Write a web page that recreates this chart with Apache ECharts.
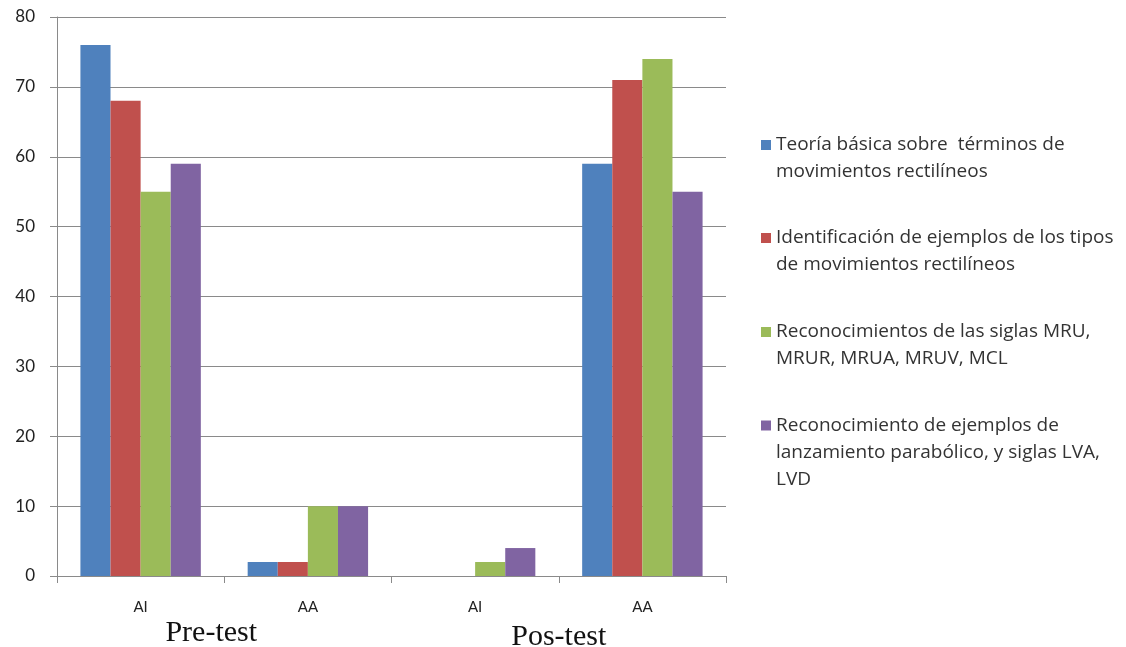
<!DOCTYPE html>
<html>
<head>
<meta charset="utf-8">
<script src="https://cdn.jsdelivr.net/npm/echarts@6/dist/echarts.min.js"></script>
<style>
html,body{margin:0;padding:0;background:#fff;}
#chart{width:1126px;height:647px;}
</style>
</head>
<body>
<div id="chart"></div>
<script>
const categories = ['AI', 'AA', 'AI', 'AA'];
const groups = ['Pre-test', 'Pos-test'];
const seriesNames = [
  'Teoría básica sobre  términos de\nmovimientos rectilíneos',
  'Identificación de ejemplos de los tipos\nde movimientos rectilíneos',
  'Reconocimientos de las siglas MRU,\nMRUR, MRUA, MRUV, MCL',
  'Reconocimiento de ejemplos de\nlanzamiento parabólico, y siglas LVA,\nLVD'
];
const teoria = [76, 2, 0, 59];
const identificacion = [68, 2, 0, 71];
const siglas = [55, 10, 2, 74];
const lanzamiento = [59, 10, 4, 55];
const yTicks = [0, 10, 20, 30, 40, 50, 60, 70, 80];

const colors = ['#4F81BD', '#C0504D', '#9BBB59', '#8064A2'];
const values = [teoria, identificacion, siglas, lanzamiento];
const iconCenters = [145, 238, 332, 425.5];
const lineH = 27;

const legends = seriesNames.map((name, i) => {
  const lines = name.split('\n').length;
  const totalLines = 2 * lines - 1;
  const blockH = totalLines * lineH;
  return {
    data: [name],
    formatter: (n) => '\n'.repeat(lines - 1) + n,
    left: 761,
    top: iconCenters[i] - blockH / 2,
    padding: 0,
    itemWidth: 10,
    itemHeight: 10,
    icon: 'rect',
    selectedMode: false,
    textStyle: { fontFamily: 'Open Sans', fontSize: 19, color: '#333', lineHeight: lineH }
  };
});

const chart = echarts.init(document.getElementById('chart'), null, { renderer: 'canvas' });
chart.setOption({
  animation: false,
  grid: { left: 57, right: 400, top: 17, bottom: 71, containLabel: false, outerBoundsMode: 'none' },
  legend: legends,
  xAxis: [
    {
      type: 'category',
      data: categories,
      axisLine: { show: true, lineStyle: { color: '#8a8a8a', width: 1 } },
      axisTick: { show: true, length: 7, lineStyle: { color: '#8a8a8a' } },
      axisLabel: { margin: 24, fontFamily: 'Lato', fontSize: 15, color: '#222' }
    },
    {
      type: 'category',
      position: 'bottom',
      data: groups,
      axisLine: { show: false },
      axisTick: { show: false },
      axisLabel: {
        margin: 42,
        formatter: (v, i) => (i === 0 ? '{a|' + v + '}' : '{b|' + v + '}'),
        rich: {
          a: { fontFamily: 'Liberation Serif', fontSize: 30, color: '#111', padding: [0, 26, 0, 0] },
          b: { fontFamily: 'Liberation Serif', fontSize: 30, color: '#111', padding: [4, 0, 0, 0] }
        }
      }
    }
  ],
  yAxis: {
    type: 'value',
    min: yTicks[0],
    max: yTicks[yTicks.length - 1],
    interval: 10,
    axisLine: { show: true, lineStyle: { color: '#8a8a8a', width: 1 } },
    axisTick: { show: true, length: 7, lineStyle: { color: '#8a8a8a' } },
    axisLabel: { margin: 22, fontFamily: 'Lato', fontSize: 17, color: '#222' },
    splitLine: { show: true, lineStyle: { color: '#8a8a8a', width: 1.2 } }
  },
  series: seriesNames.map((name, i) => ({
    name: name,
    type: 'bar',
    xAxisIndex: 0,
    data: values[i],
    barGap: '0%',
    barCategoryGap: '28%',
    itemStyle: { color: colors[i] }
  }))
});
</script>
</body>
</html>
